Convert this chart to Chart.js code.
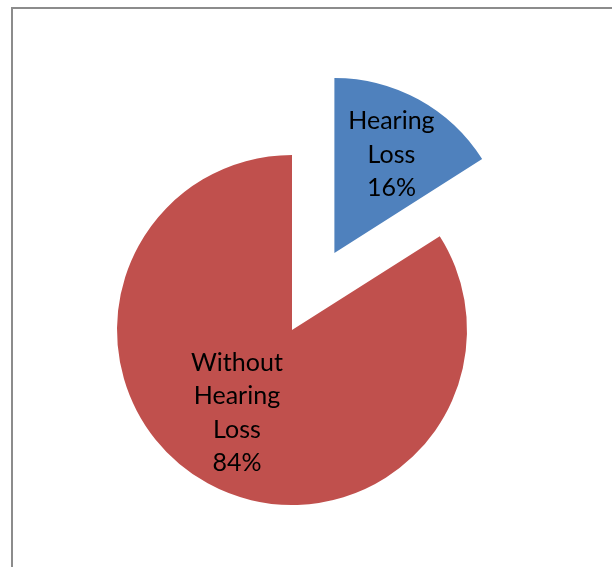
<!DOCTYPE html>
<html>
<head>
<meta charset="utf-8">
<script src="https://cdn.jsdelivr.net/npm/chart.js@4/dist/chart.umd.min.js"></script>
<style>
  html, body { margin: 0; padding: 0; background: #fff; }
  #wrap { position: relative; width: 612px; height: 567px; }
</style>
</head>
<body>
<div id="wrap"><canvas id="chart" width="612" height="567"></canvas></div>
<script>
// データ
const categories = ['Hearing Loss', 'Without Hearing Loss'];
const values = [16, 84];
const colors = ['#4F81BD', '#C0504D'];
// 切り出し量(px)とラベルの位置(半径比、角度のずれ)
const explode = [88, 0];
const label_radius = [0.648, 0.57];
const label_shift = [1.4, 4.7];

/**
 * 切り出したスライスを中心から離す
 */
const explode_plugin = {
  id: 'explode',
  afterDatasetsUpdate: (chart) => {
    const meta = chart.getDatasetMeta(0);
    meta.data.forEach((arc, index) => {
      const dist = explode[index] || 0;
      if(!dist) return;
      const mid = (arc.startAngle + arc.endAngle) / 2;
      arc.x += Math.cos(mid) * dist;
      arc.y += Math.sin(mid) * dist;
    });
  },
};

/**
 * 枠線とデータラベルを描画する
 */
const decor_plugin = {
  id: 'decor',
  beforeDraw: (chart) => {
    const ctx = chart.ctx;
    ctx.save();
    ctx.strokeStyle = '#8c8c8c';
    ctx.lineWidth = 2;
    ctx.beginPath();
    ctx.moveTo(12, chart.height);
    ctx.lineTo(12, 8);
    ctx.lineTo(chart.width, 8);
    ctx.stroke();
    ctx.restore();
  },
  afterDatasetsDraw: (chart) => {
    const ctx = chart.ctx;
    const meta = chart.getDatasetMeta(0);
    const sum = values.reduce((a, b) => a + b);

    ctx.save();
    ctx.fillStyle = '#000';
    ctx.font = '25px Lato';
    ctx.textAlign = 'center';
    ctx.textBaseline = 'middle';

    meta.data.forEach((arc, index) => {
      const mid = (arc.startAngle + arc.endAngle) / 2 + label_shift[index] * Math.PI / 180;
      const r = arc.outerRadius * label_radius[index];
      const x = arc.x + Math.cos(mid) * r;
      const y = arc.y + Math.sin(mid) * r;
      const lines = categories[index].split(' ');
      lines.push(Math.round(values[index] / sum * 100) + '%');
      const lh = 33.5;
      const top = y - (lines.length - 1) * lh / 2;
      lines.forEach((line, i) => {
        ctx.fillText(line, x, top + i * lh);
      });
    });
    ctx.restore();
  },
};

new Chart(document.getElementById('chart'), {
  type: 'pie',
  data: {
    labels: categories,
    datasets: [{
      data: values,
      backgroundColor: colors,
      borderWidth: 0,
    }],
  },
  options: {
    responsive: false,
    animation: false,
    radius: 175,
    layout: {
      padding: { left: 0, right: 28, top: 93, bottom: 0 },
    },
    plugins: {
      legend: { display: false },
      tooltip: { enabled: false },
    },
    events: [],
  },
  plugins: [explode_plugin, decor_plugin],
});
</script>
</body>
</html>
